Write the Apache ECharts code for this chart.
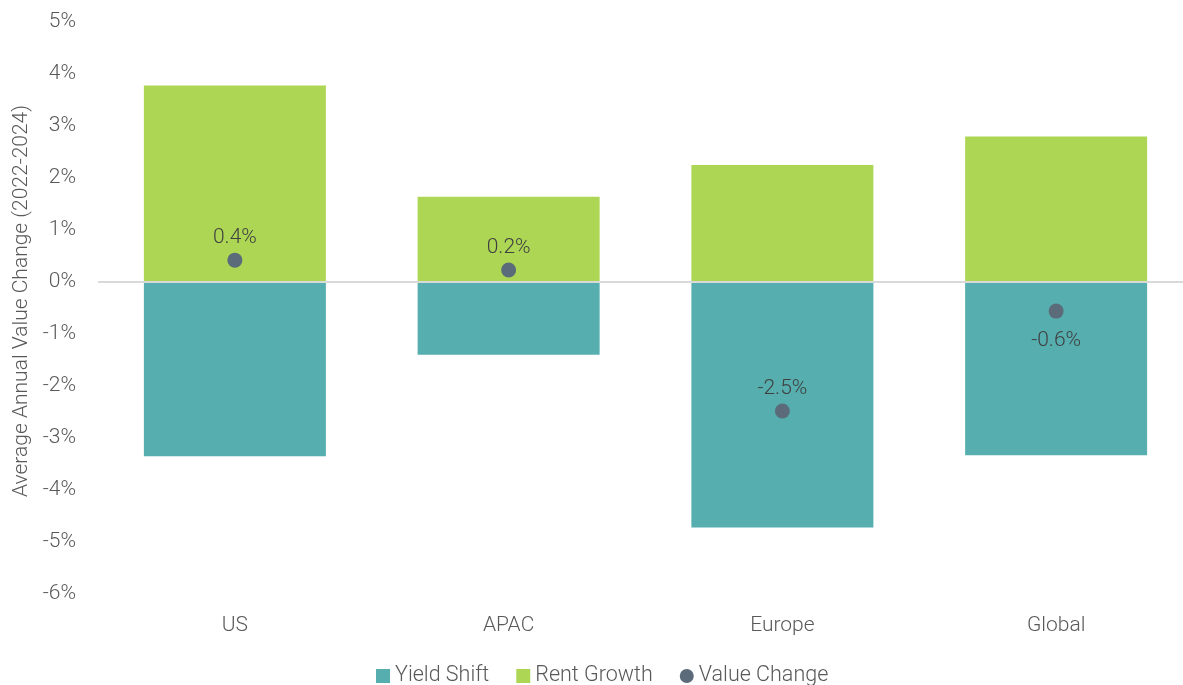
<!DOCTYPE html>
<html>
<head>
<meta charset="utf-8">
<script src="https://cdn.jsdelivr.net/npm/echarts@6/dist/echarts.min.js"></script>
<style>html,body{margin:0;padding:0;background:#fff}#c{width:1183px;height:685px}</style>
</head>
<body>
<div id="c"></div>
<script>
const categories = ['US', 'APAC', 'Europe', 'Global'];
const yieldShift = [-3.35, -1.40, -4.72, -3.33];
const rentGrowth = [3.78, 1.64, 2.25, 2.80];
const valueChange = [0.42, 0.23, -2.48, -0.56];
const valueLabels = ['0.4%', '0.2%', '-2.5%', '-0.6%'];
const labelBelow = [false, false, false, true];

const chart = echarts.init(document.getElementById('c'));
const font = 'Roboto, "Noto Sans", sans-serif';
chart.setOption({
  animation: false,
  textStyle: { fontFamily: font },
  grid: { left: 98, width: 1095, top: 22, bottom: 91, outerBoundsMode: 'none', containLabel: false },
  legend: {
    top: 660, left: 371,
    itemWidth: 14, itemHeight: 14, itemGap: 27,
    textStyle: { fontSize: 21.5, color: '#595959', fontFamily: font, fontWeight: 300 },
    data: [
      { name: 'Yield Shift', icon: 'rect' },
      { name: 'Rent Growth', icon: 'rect' },
      { name: 'Value Change', icon: 'circle' }
    ]
  },
  xAxis: {
    type: 'category', data: categories,
    axisLine: { show: false }, axisTick: { show: false },
    axisLabel: { fontSize: 21, color: '#595959', margin: 21, fontWeight: 300 }
  },
  yAxis: {
    type: 'value', min: -6, max: 5, interval: 1,
    name: 'Average Annual Value Change (2022-2024)',
    nameLocation: 'middle', nameGap: 66,
    nameTextStyle: { fontSize: 21, color: '#595959', fontWeight: 300, padding: [0, 0, 0, 14] },
    splitLine: { show: false },
    axisLine: { show: false }, axisTick: { show: false },
    axisLabel: { formatter: '{value}%', fontSize: 21, color: '#595959', margin: 22, fontWeight: 300 }
  },
  series: [
    {
      name: 'Yield Shift', type: 'bar', data: yieldShift, barWidth: 182, barGap: '-100%',
      itemStyle: { color: '#56AEAF' },
      markLine: {
        silent: true, symbol: 'none', label: { show: false },
        lineStyle: { color: '#d9d9d9', width: 2, type: 'solid' },
        data: [{ yAxis: 0 }]
      }
    },
    {
      name: 'Rent Growth', type: 'bar', data: rentGrowth, barWidth: 182, barGap: '-100%',
      itemStyle: { color: '#ADD655' }
    },
    {
      name: 'Value Change', type: 'scatter', symbolSize: 15, z: 5,
      itemStyle: { color: '#5B6B79', opacity: 1 },
      data: valueChange.map((v, i) => ({
        value: v,
        label: {
          show: true,
          position: labelBelow[i] ? 'bottom' : 'top',
          distance: labelBelow[i] ? 12 : 4,
          formatter: valueLabels[i],
          fontSize: 21, color: '#404040', fontWeight: 300, fontFamily: font
        }
      }))
    }
  ]
});
</script>
</body>
</html>
